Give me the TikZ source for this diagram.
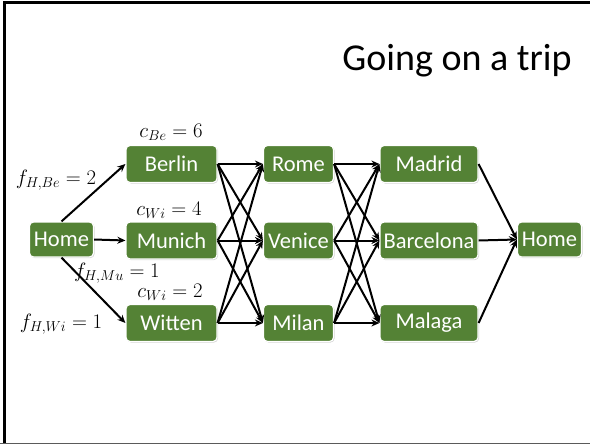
\documentclass[tikz,border=0pt]{standalone}
\usepackage{fontspec}
\setmainfont{Carlito}
\usetikzlibrary{arrows.meta,shadows}
\definecolor{boxgreen}{RGB}{84,130,53}
\definecolor{framegray}{RGB}{90,90,90}
\begin{document}
\begin{tikzpicture}[x=1pt,y=-1pt,
  city/.style={rectangle, rounded corners=4pt, fill=boxgreen, draw=white, line width=1.2pt,
    text=white, font=\fontsize{22.5}{26}\selectfont, inner sep=0pt, minimum height=37pt,
    drop shadow={opacity=0.35, shadow xshift=1pt, shadow yshift=-1pt}},
  col1/.style={city, minimum width=91pt},
  col2/.style={city, minimum width=70pt},
  col3/.style={city, minimum width=98pt},
  homebox/.style={city, minimum width=64pt, minimum height=35pt},
  conn/.style={line width=2pt, -{Stealth[length=8pt,width=7pt]}},
  lbl/.style={inner sep=0pt, font=\fontsize{21}{24}\selectfont}
]
\useasboundingbox (0,0) rectangle (590,444);
% slide frame
\draw[line width=3pt] (4.5,444) -- (4.5,3) -- (590,3);
\draw[framegray, line width=1.2pt] (0,443.4) -- (590,443.4);

\node[font=\fontsize{38}{44}\selectfont] (title) at (457,61) {Going on a trip};

\node[homebox] (home1) at (61.5,239.5) {Home};
\node[col1] (berlin) at (171.5,164) {Berlin};
\node[col1] (munich) at (171.5,240.5) {Munich};
\node[col1] (witten) at (171.5,323) {Witten};
\node[col2] (rome) at (298.5,164) {Rome};
\node[col2] (venice) at (298.5,240.5) {Venice};
\node[col2] (milan) at (298.5,323) {Milan};
\node[col3] (madrid) at (429,164) {Madrid};
\node[col3] (barcelona) at (429,240.5) {Barcelona};
\node[col3] (malaga) at (429,323) {Malaga};
\node[homebox] (home2) at (549.5,239.5) {Home};

\node[lbl] (cbe) at (171,132) {$c_{Be}=6$};
\node[lbl] (fhbe) at (56,180) {$f_{H,Be}=2$};
\node[lbl] (cwi4) at (169,210) {$c_{Wi}=4$};
\node[lbl] (fhmu) at (117,273) {$f_{H,Mu}=1$};
\node[lbl] (cwi2) at (170,292) {$c_{Wi}=2$};
\node[lbl] (fhwi) at (61,324) {$f_{H,Wi}=1$};

\draw[conn] (home1.north) -- (berlin.west);
\draw[conn] (home1.east) -- (munich.west);
\draw[conn] (home1.south) -- (witten.west);

\foreach \s in {berlin,munich,witten}
  \foreach \t in {rome,venice,milan}
    \draw[conn] (\s.east) -- (\t.west);

\foreach \s in {rome,venice,milan}
  \foreach \t in {madrid,barcelona,malaga}
    \draw[conn] (\s.east) -- (\t.west);

\foreach \s in {madrid,barcelona,malaga}
  \draw[conn] (\s.east) -- (home2.west);
\end{tikzpicture}
\end{document}
